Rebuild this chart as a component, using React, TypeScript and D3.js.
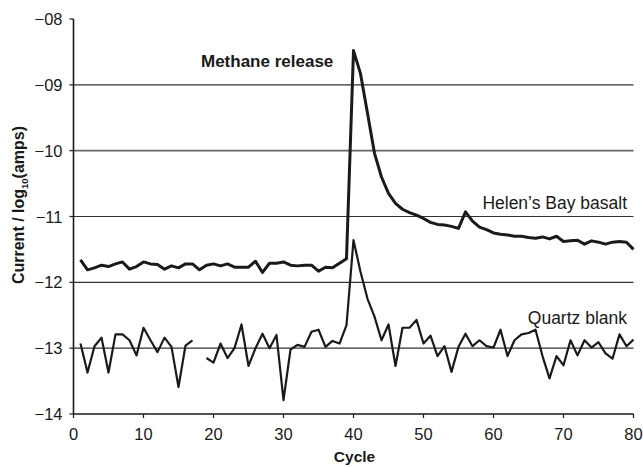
import React from "react";
import * as d3 from "d3";

const cycles = d3.range(1, 81);
const basalt = [
  -11.66, -11.81, -11.78, -11.74, -11.76, -11.72, -11.69, -11.8, -11.76, -11.69,
  -11.72, -11.73, -11.8, -11.75, -11.78, -11.72, -11.72, -11.81, -11.74, -11.72,
  -11.75, -11.72, -11.77, -11.77, -11.77, -11.68, -11.85, -11.71, -11.71, -11.69,
  -11.74, -11.75, -11.74, -11.74, -11.83, -11.77, -11.78, -11.71, -11.64, -8.48,
  -8.83, -9.43, -10.04, -10.4, -10.65, -10.8, -10.89, -10.94, -10.98, -11.03,
  -11.09, -11.12, -11.13, -11.15, -11.18, -10.93, -11.07, -11.16, -11.2, -11.25,
  -11.27, -11.28, -11.3, -11.3, -11.32, -11.33, -11.31, -11.34, -11.3, -11.38,
  -11.37, -11.36, -11.42, -11.37, -11.39, -11.42, -11.39, -11.38, -11.39, -11.5,
];
const quartz: (number | null)[] = [
  -12.93, -13.37, -12.97, -12.84, -13.37, -12.79, -12.79, -12.88, -13.11, -12.69,
  -12.88, -13.06, -12.84, -12.98, -13.59, -12.96, -12.88, null, -13.15, -13.22,
  -12.93, -13.15, -13.0, -12.64, -13.27, -13.0, -12.78, -13.0, -12.8, -13.79,
  -13.02, -12.95, -12.98, -12.75, -12.72, -12.98, -12.89, -12.93, -12.65, -11.36,
  -11.84, -12.25, -12.52, -12.88, -12.64, -13.27, -12.69, -12.69, -12.57, -12.93,
  -12.81, -13.12, -12.97, -13.36, -12.98, -12.78, -12.97, -12.88, -12.97, -12.99,
  -12.72, -13.12, -12.88, -12.79, -12.77, -12.72, -13.12, -13.46, -13.12, -13.26,
  -12.88, -13.11, -12.88, -12.99, -12.91, -13.08, -13.16, -12.79, -12.97, -12.87,
];
const xTicks = [0, 10, 20, 30, 40, 50, 60, 70, 80];
const yTicks = [-8, -9, -10, -11, -12, -13, -14];
const yTickLabels = ["\u221208", "\u221209", "\u221210", "\u221211", "\u221212", "\u221213", "\u221214"];

const W = 643;
const H = 467;
const left = 73.5;
const right = 633.5;
const top = 19;
const bottom = 414;

export default function App() {
  const x = d3.scaleLinear().domain([0, 80]).range([left, right]);
  const y = d3.scaleLinear().domain([-14, -8]).range([bottom, top]);
  const line = d3
    .line<[number, number | null]>()
    .defined((d) => d[1] !== null)
    .x((d) => x(d[0]))
    .y((d) => y(d[1] as number));
  const basaltPath = line(cycles.map((c, i) => [c, basalt[i]]));
  const quartzPath = line(cycles.map((c, i) => [c, quartz[i]]));
  const font = "Liberation Sans, Arial, Helvetica, sans-serif";
  const ink = "#1a1a1a";

  return (
    <svg
      width={W}
      height={H}
      style={{ position: "absolute", left: 0, top: 0, background: "#fff" }}
      fontFamily={font}
    >
      {yTicks
        .filter((t) => t !== -8 && t !== -14)
        .map((t) => (
          <line
            key={"g" + t}
            x1={left}
            x2={right}
            y1={y(t)}
            y2={y(t)}
            stroke={t === -10 ? "#666" : "#333"}
            strokeWidth={t === -10 ? 1.6 : 1.1}
          />
        ))}
      <line x1={left} x2={left} y1={top} y2={bottom} stroke={ink} strokeWidth={1.6} />
      {yTicks.map((t, i) => (
        <g key={"yt" + t}>
          <line x1={left - 4} x2={left} y1={y(t)} y2={y(t)} stroke={ink} strokeWidth={1.2} />
          <text
            x={left - 11}
            y={y(t)}
            textAnchor="end"
            dominantBaseline="central"
            fontSize={16.5}
            fill={ink}
          >
            {yTickLabels[i]}
          </text>
        </g>
      ))}
      <line x1={left} x2={right} y1={bottom} y2={bottom} stroke={ink} strokeWidth={1.6} />
      {xTicks.map((t) => (
        <g key={"xt" + t}>
          <line x1={x(t)} x2={x(t)} y1={bottom} y2={bottom + 4} stroke={ink} strokeWidth={1.2} />
          <text x={x(t)} y={440} textAnchor="middle" fontSize={16.5} fill={ink}>
            {t}
          </text>
        </g>
      ))}
      <path d={quartzPath ?? ""} fill="none" stroke={ink} strokeWidth={2.2} strokeLinejoin="round" />
      <path d={basaltPath ?? ""} fill="none" stroke={ink} strokeWidth={3} strokeLinejoin="round" />
      <text x={201} y={66.5} fontSize={17} fontWeight="bold" fill={ink}>
        Methane release
      </text>
      <text x={627} y={209} textAnchor="end" fontSize={17.5} fill={ink}>
        Helen’s Bay basalt
      </text>
      <text x={627} y={324} textAnchor="end" fontSize={17.5} fill={ink}>
        Quartz blank
      </text>
      <text x={354.5} y={462} textAnchor="middle" fontSize={15.5} fontWeight="bold" fill={ink}>
        Cycle
      </text>
      <text
        transform={`translate(24, 205) rotate(-90)`}
        textAnchor="middle"
        fontSize={16}
        fontWeight="bold"
        fill={ink}
      >
        Current / log
        <tspan fontSize={9.5} dy={3.5}>10</tspan>
        <tspan dy={-3.5}>(amps)</tspan>
      </text>
    </svg>
  );
}
